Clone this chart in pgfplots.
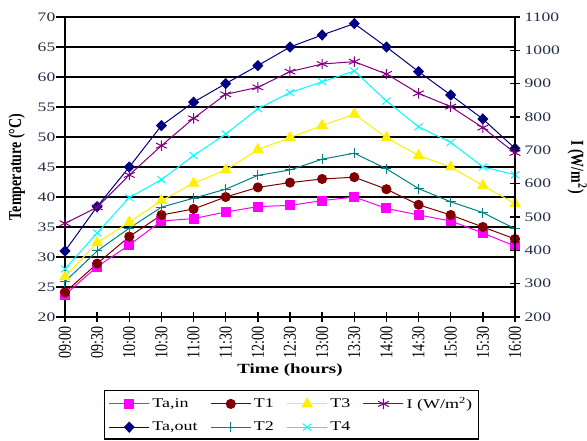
\documentclass[border=0pt]{standalone}
\usepackage{fontspec}
\setmainfont[FakeStretch=1.35]{Liberation Serif}
\newfontfamily\rotfont{Liberation Serif}
\usepackage{graphicx}
\usepackage{pgfplots}
\pgfplotsset{compat=1.18}
\definecolor{cMag}{RGB}{255,0,255}
\definecolor{cBrown}{RGB}{128,0,0}
\definecolor{cYel}{RGB}{255,240,0}
\definecolor{cPur}{RGB}{128,0,128}
\definecolor{cNavy}{RGB}{0,0,128}
\definecolor{cTeal}{RGB}{0,128,128}
\definecolor{cCyan}{RGB}{0,255,255}
\definecolor{ticktext}{RGB}{35,45,75}
\newcommand{\xl}[1]{\scalebox{1}[1.3]{#1}}
\pgfplotsset{
  sTain/.style={color=cMag, line width=0.75pt, mark=square*, mark size=3.4pt, mark options={solid}},
  sT1/.style={color=cBrown, line width=0.75pt, mark=*, mark size=3.4pt, mark options={solid}},
  sT3/.style={color=cYel, line width=0.75pt, mark=triangle*, mark size=4.3pt, mark options={solid}},
  sI/.style={color=cPur, line width=0.75pt, mark=asterisk, mark size=3.9pt, mark options={solid,xscale=1.2}},
  sTaout/.style={color=cNavy, line width=0.75pt, mark=diamond*, mark size=3.7pt, mark options={solid,xscale=1.3}},
  sT2/.style={color=cTeal, line width=0.75pt, mark=+, mark size=3.8pt, mark options={solid}},
  sT4/.style={color=cCyan, line width=0.75pt, mark=x, mark size=3.6pt, mark options={solid,xscale=1.2}},
  common/.style={
    scale only axis, width=337.5pt, height=225pt,
    xmin=0, xmax=14,
    /pgf/number format/assume math mode=true,
    /pgf/number format/1000 sep={},
    tick label style={font=\fontsize{9.75pt}{11.7pt}\selectfont, text=ticktext},
    axis line style={black, line width=1.1pt},
    major tick length=7.5pt,
    tick style={black, line width=1pt},
  },
}
\begin{document}
\begin{tikzpicture}
\begin{axis}[
  common,
  ymin=20, ymax=70,
  xtick={0,...,14},
  xticklabels={\xl{09:00},\xl{09:30},\xl{10:00},\xl{10:30},\xl{11:00},\xl{11:30},\xl{12:00},\xl{12:30},\xl{13:00},\xl{13:30},\xl{14:00},\xl{14:30},\xl{15:00},\xl{15:30},\xl{16:00}},
  xticklabel style={rotate=90, anchor=east, font=\rotfont\fontsize{10.5pt}{12pt}\selectfont, text=black},
  ytick={20,25,...,70},
  axis x line*=bottom, axis y line*=left,
  tick align=center,
  y tick style={xshift=-3.2pt},
  ymajorgrids, grid style={black, line width=0.9pt},
  xlabel={Time (hours)},
  xlabel style={at={(axis description cs:0.5,-0.177)}, anchor=center, font=\fontsize{10.5pt}{12.6pt}\selectfont\bfseries},
  ylabel={\scalebox{1}[1.3]{Temperature (°C)}},
  ylabel style={at={(axis description cs:-0.107,0.5)}, anchor=center, font=\rotfont\fontsize{10.5pt}{12.6pt}\selectfont\bfseries},
]
\addplot[sTain] coordinates {(0,23.7) (1,28.4) (2,32.0) (3,36.0) (4,36.4) (5,37.5) (6,38.4) (7,38.6) (8,39.4) (9,40.0) (10,38.1) (11,37.0) (12,36.0) (13,34.0) (14,31.8)};
\addplot[sTaout] coordinates {(0,31.0) (1,38.4) (2,45.0) (3,51.9) (4,55.8) (5,58.9) (6,61.9) (7,65.0) (8,67.0) (9,68.9) (10,65.0) (11,60.9) (12,57.0) (13,53.0) (14,48.1)};
\addplot[sT1] coordinates {(0,24.1) (1,28.9) (2,33.4) (3,37.0) (4,38.0) (5,40.0) (6,41.6) (7,42.4) (8,43.0) (9,43.3) (10,41.3) (11,38.7) (12,37.0) (13,35.0) (14,33.0)};
\addplot[sT2] coordinates {(0,25.9) (1,31.0) (2,34.8) (3,38.3) (4,39.8) (5,41.3) (6,43.6) (7,44.5) (8,46.3) (9,47.3) (10,44.7) (11,41.4) (12,39.2) (13,37.4) (14,34.7)};
\addplot[sT3] coordinates {(0,26.7) (1,32.4) (2,35.8) (3,39.4) (4,42.3) (5,44.5) (6,47.9) (7,49.9) (8,51.9) (9,53.8) (10,49.9) (11,46.9) (12,45.0) (13,41.9) (14,38.9)};
\addplot[sT4] coordinates {(0,28.0) (1,34.0) (2,39.9) (3,42.9) (4,46.9) (5,50.5) (6,54.7) (7,57.4) (8,59.2) (9,61.0) (10,56.0) (11,51.7) (12,49.1) (13,45.0) (14,43.7)};
\end{axis}
\begin{axis}[
  common,
  ymin=200, ymax=1100,
  ytick={200,300,...,1100},
  axis y line*=right, axis x line=none,
  tick align=center,
  ylabel={\scalebox{1}[1.3]{I (W/m\textsuperscript{2})}},
  every axis y label/.style={at={(axis description cs:1.138,0.5)}, rotate=-90, anchor=center, font=\rotfont\fontsize{10.5pt}{12.6pt}\selectfont\bfseries},
  legend columns=4,
  legend cell align=left,
  legend image code/.code={\draw[mark repeat=2,mark phase=2] plot coordinates {(0pt,0pt) (15pt,0pt) (30pt,0pt)};},
  legend style={at={(axis description cs:0.0867,-0.2433)}, anchor=north west, draw=black, line width=1.1pt,
    font=\fontsize{10pt}{12pt}\selectfont, inner xsep=3pt, inner ysep=3pt,
    /tikz/every even column/.append style={column sep=7.5pt}, row sep=4.5pt},
  legend image post style={line width=0.75pt},
  legend entries={{Ta,in},T1,T3,{I (W/m\textsuperscript{2})},{Ta,out},T2,T4},
]
\addlegendimage{sTain}
\addlegendimage{sT1}
\addlegendimage{sT3}
\addplot[sI] coordinates {(0,481) (1,529) (2,626) (3,714) (4,796) (5,868) (6,889) (7,936) (8,959) (9,966) (10,929) (11,871) (12,831) (13,768) (14,692)};
\addlegendimage{sTaout}
\addlegendimage{sT2}
\addlegendimage{sT4}
\end{axis}
\pgfresetboundingbox
\path[use as bounding box] (-48.75pt,-93pt) rectangle (391.5pt,237.75pt);
\end{tikzpicture}
\end{document}
